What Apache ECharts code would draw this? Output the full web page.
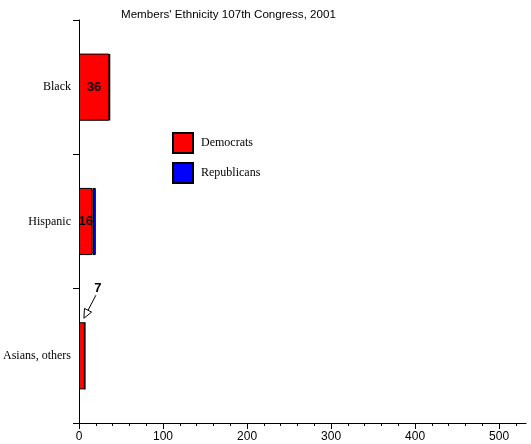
<!DOCTYPE html>
<html>
<head>
<meta charset="utf-8">
<script src="https://cdn.jsdelivr.net/npm/echarts@6/dist/echarts.min.js"></script>
<style>
  html, body { margin: 0; padding: 0; background: #fff; }
  #chart { width: 531px; height: 444px; }
</style>
</head>
<body>
<div id="chart"></div>
<script>
// 数据
var categories = ['Black', 'Hispanic', 'Asians, others'];
var democrats = [36, 16, 7];
var republicans = [1, 4, 0];
var xTicks = [0, 100, 200, 300, 400, 500];

var chart = echarts.init(document.getElementById('chart'));

// 民主党的标签：前两个放在柱内，最后一个用箭头指出
var demData = democrats.map(function (v, i) {
    if (i == 2) {
        return {
            value: v,
            label: { position: 'top', offset: [16, -22] }
        };
    }
    return v;
});

var option = {
    animation: false,
    title: {
        text: "Members' Ethnicity 107th Congress, 2001",
        left: 121,
        top: 9,
        padding: 0,
        textStyle: {
            fontFamily: 'Liberation Sans',
            fontSize: 11.6,
            fontWeight: 'normal',
            color: '#000'
        }
    },
    legend: {
        orient: 'vertical',
        left: 172,
        top: 132,
        padding: 0,
        itemWidth: 20,
        itemHeight: 20,
        itemGap: 8,
        icon: 'rect',
        textStyle: {
            fontFamily: 'Liberation Serif',
            fontSize: 12,
            lineHeight: 20,
            color: '#000',
            padding: [0, 0, 0, 3]
        },
        data: ['Democrats', 'Republicans']
    },
    grid: {
        left: 79,
        right: 5,
        top: 20,
        bottom: 21,
        containLabel: false
    },
    xAxis: {
        type: 'value',
        min: 0,
        max: 532,
        interval: 100,
        splitLine: { show: false },
        axisLine: { show: true, lineStyle: { color: '#000', width: 1 } },
        axisTick: { show: true, length: 6, customValues: xTicks, lineStyle: { color: '#000' } },
        minorTick: { show: true, splitNumber: 5, length: 3, lineStyle: { color: '#000' } },
        axisLabel: {
            customValues: xTicks,
            margin: 8,
            fontFamily: 'Liberation Sans',
            fontSize: 12,
            color: '#000'
        }
    },
    yAxis: {
        type: 'category',
        inverse: true,
        data: categories,
        axisLine: { show: true, lineStyle: { color: '#000', width: 1 } },
        axisTick: { show: true, length: 6, lineStyle: { color: '#000' } },
        axisLabel: {
            margin: 8,
            fontFamily: 'Liberation Serif',
            fontSize: 12,
            color: '#000'
        }
    },
    series: [{
        name: 'Democrats',
        type: 'bar',
        stack: 'members',
        barWidth: '50%',
        itemStyle: { color: '#ff0000', borderColor: '#000', borderWidth: 1 },
        label: {
            show: true,
            position: 'inside',
            fontFamily: 'Liberation Sans',
            fontSize: 13,
            fontWeight: 'bold',
            color: '#000'
        },
        data: demData
    }, {
        name: 'Republicans',
        type: 'bar',
        stack: 'members',
        barWidth: '50%',
        itemStyle: { color: '#0000ff', borderColor: '#000', borderWidth: 1 },
        data: republicans
    }]
};
chart.setOption(option);

// 箭头注释，位置从坐标轴换算
var p = chart.convertToPixel({ gridIndex: 0 }, [democrats[2], 2]);
var bandH = chart.convertToPixel({ gridIndex: 0 }, [0, 1])[1] - chart.convertToPixel({ gridIndex: 0 }, [0, 0])[1];
var barTop = p[1] - bandH / 4;
var tipX = p[0] - 1, tipY = barTop - 4;
var fromX = p[0] + 11, fromY = barTop - 27;
var ang = Math.atan2(tipY - fromY, tipX - fromX);
var hl = 9, hw = 4;
var bx = tipX - hl * Math.cos(ang), by = tipY - hl * Math.sin(ang);
chart.setOption({
    graphic: [{
        type: 'line',
        shape: { x1: fromX, y1: fromY, x2: bx, y2: by },
        style: { stroke: '#000', lineWidth: 1 }
    }, {
        type: 'polygon',
        shape: {
            points: [
                [tipX, tipY],
                [bx + hw * Math.sin(ang), by - hw * Math.cos(ang)],
                [bx - hw * Math.sin(ang), by + hw * Math.cos(ang)]
            ]
        },
        style: { fill: '#fff', stroke: '#000', lineWidth: 1 }
    }]
});
</script>
</body>
</html>
